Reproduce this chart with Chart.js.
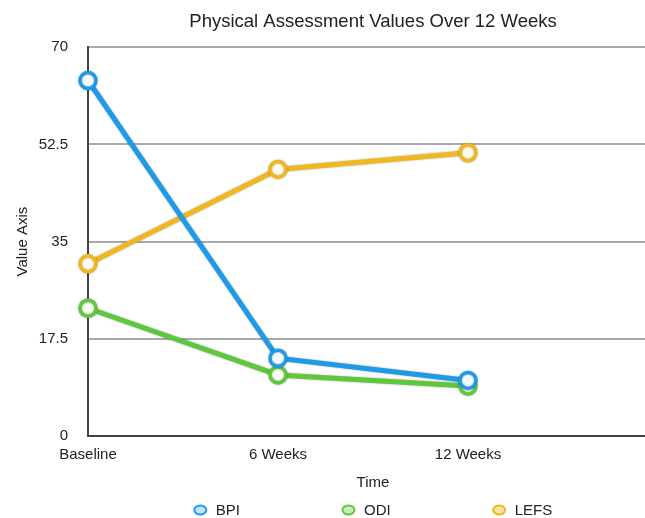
<!DOCTYPE html>
<html>
<head>
<meta charset="utf-8">
<title>Physical Assessment Values Over 12 Weeks</title>
<script src="https://cdn.jsdelivr.net/npm/chart.js@4.4.1/dist/chart.umd.min.js"></script>
<style>
  html, body { margin: 0; padding: 0; background: #fff; overflow: hidden; }
  #wrap { width: 746px; height: 518px; }
</style>
</head>
<body>
<div id="wrap"><canvas id="chart" width="746" height="518"></canvas></div>
<script>
// chart values
const timeLabels = ['Baseline', '6 Weeks', '12 Weeks', ''];
const bpiValues  = [64, 14, 10];
const odiValues  = [23, 11, 9];
const lefsValues = [31, 48, 51];
const yTicks     = [0, 17.5, 35, 52.5, 70];

const FONT = '"Liberation Sans", Arial, Helvetica, sans-serif';
const TXT = '#222222';

function series(label, data, color, fill, legendFill) {
  return {
    label, data,
    borderColor: color,
    backgroundColor: fill,
    borderWidth: 5,
    pointRadius: 8,
    pointHoverRadius: 8,
    pointBorderWidth: 3.5,
    pointBorderColor: color,
    pointBackgroundColor: fill,
    legendFill: legendFill,
    tension: 0
  };
}

const datasets = [
  series('BPI',  bpiValues,  '#1e9be8', '#f2faff', '#bfe2f8'),
  series('ODI',  odiValues,  '#5ec73c', '#f4fff0', '#c8ecb8'),
  series('LEFS', lefsValues, '#f0b81e', '#fffbea', '#f8e3a0')
];

// soft dark edge round the lines, as in the reference
const lineEdge = {
  id: 'lineEdge',
  beforeDatasetsDraw(chart) {
    const ctx = chart.ctx;
    ctx.save();
    ctx.shadowColor = 'rgba(0,0,0,0.35)';
    ctx.shadowBlur = 2;
  },
  afterDatasetsDraw(chart) { chart.ctx.restore(); }
};

// legend row with wide spacing, centred under the plot
const bottomLegend = {
  id: 'bottomLegend',
  afterDraw(chart) {
    const { ctx, chartArea } = chart;
    ctx.save();
    ctx.font = '15px ' + FONT;
    ctx.textBaseline = 'middle';
    const items = chart.data.datasets.map(ds => ({ ds, w: ctx.measureText(ds.label).width }));
    const after = 102; // text end -> next marker centre minus half marker
    let total = 0;
    items.forEach((it, i) => { total += 13 + 9 + it.w + (i < items.length - 1 ? after : 0); });
    let x = (chartArea.left + chartArea.right) / 2 - total / 2;
    const y = chart.height - 7;
    items.forEach(it => {
      const cx = x + 6.5;
      ctx.beginPath();
      ctx.ellipse(cx, y - 1, 6, 4.5, 0, 0, Math.PI * 2);
      ctx.fillStyle = it.ds.legendFill;
      ctx.fill();
      ctx.lineWidth = 2;
      ctx.strokeStyle = it.ds.borderColor;
      ctx.stroke();
      ctx.fillStyle = TXT;
      ctx.fillText(it.ds.label, x + 22, y);
      x += 22 + it.w + after;
    });
    ctx.restore();
  }
};

new Chart(document.getElementById('chart'), {
  type: 'line',
  data: { labels: timeLabels, datasets },
  plugins: [lineEdge, bottomLegend],
  options: {
    responsive: false,
    animation: false,
    layout: { padding: { left: 0, right: 88, top: 0, bottom: 26 } },
    plugins: {
      title: {
        display: true,
        fullSize: false,
        text: 'Physical Assessment Values Over 12 Weeks',
        color: TXT,
        font: { family: FONT, size: 18.5, weight: 'normal' },
        padding: { top: 11, bottom: 14 }
      },
      legend: { display: false },
      tooltip: { enabled: false }
    },
    scales: {
      x: {
        type: 'category',
        offset: false,
        grid: { display: false, drawTicks: false },
        border: { display: true, color: '#444444', width: 2 },
        ticks: { color: TXT, font: { family: FONT, size: 15 }, padding: 10, maxRotation: 0, autoSkip: false },
        title: { display: true, text: 'Time', color: TXT, font: { family: FONT, size: 15 }, padding: { top: 0, bottom: 0 } }
      },
      y: {
        min: 0,
        max: 70,
        afterBuildTicks(scale) { scale.ticks = yTicks.map(v => ({ value: v })); },
        afterFit(scale) { scale.width = 88; },
        grid: { color: '#a9a9a9', lineWidth: 2, drawTicks: false },
        border: { display: true, color: '#444444', width: 2 },
        ticks: { color: TXT, font: { family: FONT, size: 15 }, padding: 20, callback: v => String(v) },
        title: { display: true, text: 'Value Axis', color: TXT, font: { family: FONT, size: 15 }, padding: { top: 14, bottom: 0 } }
      }
    }
  }
});
</script>
</body>
</html>
